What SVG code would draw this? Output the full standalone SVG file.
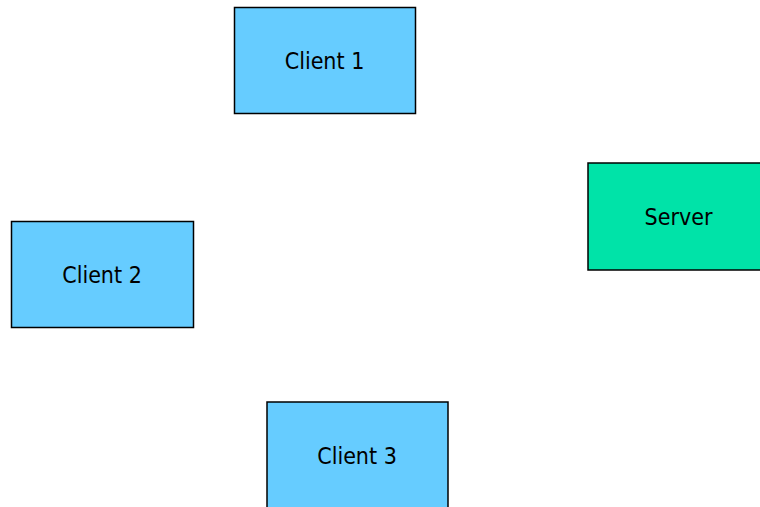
<svg xmlns="http://www.w3.org/2000/svg" width="760" height="507" viewBox="0 0 760 507">
  <style>
    .box { stroke: #000; stroke-width: 1.5; }
    .client { fill: #66CCFF; }
    .server { fill: #00E3A8; }
    .label { font-family: "DejaVu Sans Condensed", "DejaVu Sans", sans-serif; font-stretch: condensed; font-size: 23px; fill: #000; text-anchor: middle; dominant-baseline: central; }
  </style>
  <rect width="760" height="507" fill="#fff"/>
  <g id="connectors"></g>
  <g id="client1">
    <rect class="box client" x="234.5" y="7.5" width="181" height="106"/>
    <text class="label" x="324.5" y="61">Client 1</text>
  </g>
  <g id="client2">
    <rect class="box client" x="11.5" y="221.5" width="182" height="106"/>
    <text class="label" x="102" y="275">Client 2</text>
  </g>
  <g id="client3">
    <rect class="box client" x="267" y="402" width="181" height="108"/>
    <text class="label" x="357" y="456">Client 3</text>
  </g>
  <g id="server">
    <rect class="box server" x="588" y="163" width="180" height="107"/>
    <text class="label" x="678.5" y="216.5">Server</text>
  </g>
</svg>
